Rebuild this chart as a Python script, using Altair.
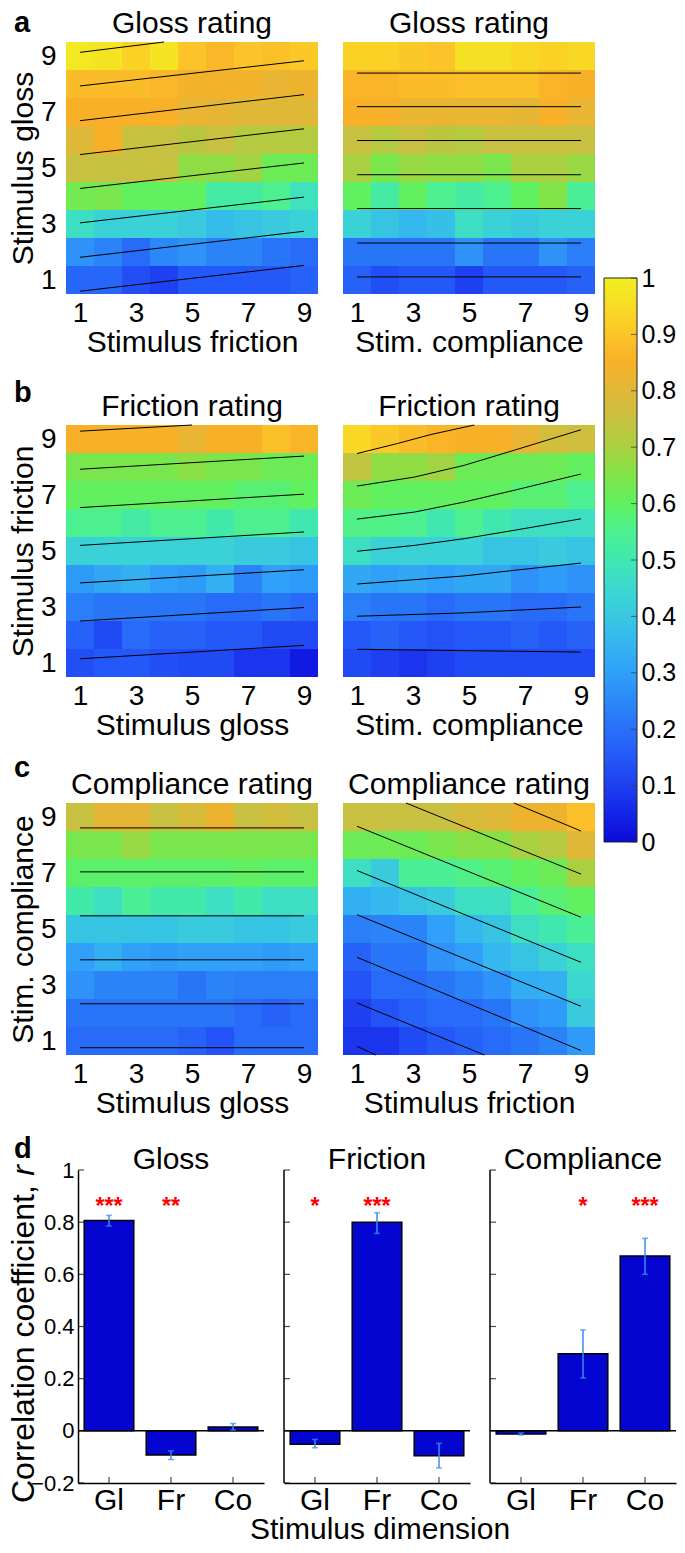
import altair as alt
import pandas as pd

FONT = "Liberation Sans"

# ---------------- heatmap values (rows: stimulus level 9 at top -> 1 at bottom; columns 1..9) -------------
gloss_vs_friction = [
    [0.98, 0.97, 0.93, 0.97, 0.90, 0.87, 0.90, 0.89, 0.91],
    [0.88, 0.88, 0.88, 0.87, 0.84, 0.84, 0.84, 0.82, 0.83],
    [0.85, 0.85, 0.85, 0.85, 0.82, 0.81, 0.80, 0.80, 0.80],
    [0.80, 0.85, 0.75, 0.75, 0.73, 0.75, 0.72, 0.72, 0.72],
    [0.75, 0.75, 0.75, 0.75, 0.67, 0.67, 0.69, 0.62, 0.62],
    [0.63, 0.64, 0.60, 0.60, 0.60, 0.52, 0.52, 0.55, 0.48],
    [0.47, 0.43, 0.43, 0.43, 0.41, 0.37, 0.39, 0.41, 0.43],
    [0.27, 0.24, 0.19, 0.25, 0.27, 0.24, 0.24, 0.21, 0.19],
    [0.18, 0.18, 0.13, 0.10, 0.15, 0.15, 0.15, 0.15, 0.17],
]
gloss_vs_compliance = [
    [0.93, 0.93, 0.91, 0.90, 0.96, 0.96, 0.94, 0.93, 0.94],
    [0.86, 0.86, 0.88, 0.88, 0.89, 0.89, 0.89, 0.86, 0.85],
    [0.85, 0.85, 0.82, 0.82, 0.82, 0.82, 0.81, 0.85, 0.82],
    [0.75, 0.72, 0.75, 0.73, 0.72, 0.75, 0.75, 0.75, 0.75],
    [0.70, 0.64, 0.68, 0.67, 0.67, 0.64, 0.70, 0.70, 0.68],
    [0.60, 0.52, 0.60, 0.55, 0.52, 0.55, 0.60, 0.65, 0.54],
    [0.43, 0.39, 0.36, 0.38, 0.47, 0.43, 0.41, 0.43, 0.43],
    [0.21, 0.21, 0.21, 0.21, 0.27, 0.21, 0.21, 0.27, 0.23],
    [0.17, 0.13, 0.15, 0.15, 0.10, 0.15, 0.15, 0.15, 0.17],
]
friction_vs_gloss = [
    [0.85, 0.85, 0.85, 0.85, 0.82, 0.85, 0.85, 0.89, 0.86],
    [0.64, 0.64, 0.64, 0.64, 0.66, 0.64, 0.64, 0.62, 0.62],
    [0.60, 0.60, 0.60, 0.60, 0.60, 0.60, 0.58, 0.58, 0.60],
    [0.55, 0.55, 0.52, 0.55, 0.55, 0.51, 0.55, 0.55, 0.50],
    [0.43, 0.43, 0.43, 0.43, 0.43, 0.43, 0.41, 0.41, 0.39],
    [0.29, 0.32, 0.34, 0.30, 0.29, 0.34, 0.24, 0.30, 0.29],
    [0.23, 0.21, 0.21, 0.21, 0.21, 0.19, 0.19, 0.21, 0.19],
    [0.17, 0.12, 0.19, 0.17, 0.17, 0.15, 0.15, 0.12, 0.12],
    [0.13, 0.15, 0.15, 0.13, 0.12, 0.12, 0.08, 0.08, 0.03],
]
friction_vs_compliance = [
    [0.94, 0.91, 0.88, 0.86, 0.85, 0.85, 0.82, 0.77, 0.76],
    [0.74, 0.67, 0.67, 0.69, 0.62, 0.62, 0.62, 0.62, 0.60],
    [0.62, 0.60, 0.60, 0.60, 0.60, 0.60, 0.58, 0.58, 0.55],
    [0.56, 0.56, 0.55, 0.50, 0.55, 0.50, 0.47, 0.47, 0.47],
    [0.47, 0.43, 0.43, 0.43, 0.43, 0.39, 0.39, 0.41, 0.39],
    [0.32, 0.30, 0.32, 0.30, 0.32, 0.32, 0.27, 0.29, 0.27],
    [0.23, 0.21, 0.21, 0.19, 0.21, 0.21, 0.19, 0.19, 0.21],
    [0.15, 0.17, 0.15, 0.14, 0.15, 0.15, 0.17, 0.15, 0.17],
    [0.12, 0.10, 0.08, 0.10, 0.12, 0.12, 0.12, 0.12, 0.12],
]
compliance_vs_gloss = [
    [0.75, 0.81, 0.81, 0.75, 0.78, 0.83, 0.75, 0.77, 0.75],
    [0.64, 0.64, 0.68, 0.64, 0.64, 0.64, 0.64, 0.64, 0.64],
    [0.59, 0.59, 0.59, 0.59, 0.59, 0.59, 0.60, 0.59, 0.59],
    [0.51, 0.47, 0.54, 0.51, 0.51, 0.47, 0.51, 0.47, 0.47],
    [0.39, 0.39, 0.39, 0.39, 0.41, 0.41, 0.39, 0.39, 0.41],
    [0.30, 0.34, 0.30, 0.29, 0.30, 0.30, 0.30, 0.29, 0.30],
    [0.27, 0.24, 0.24, 0.24, 0.21, 0.24, 0.23, 0.23, 0.23],
    [0.21, 0.21, 0.21, 0.21, 0.21, 0.21, 0.19, 0.17, 0.19],
    [0.19, 0.19, 0.19, 0.19, 0.17, 0.14, 0.19, 0.19, 0.19],
]
compliance_vs_friction = [
    [0.75, 0.75, 0.75, 0.75, 0.78, 0.80, 0.83, 0.83, 0.89],
    [0.62, 0.62, 0.62, 0.64, 0.66, 0.66, 0.70, 0.72, 0.80],
    [0.47, 0.41, 0.54, 0.54, 0.56, 0.58, 0.60, 0.62, 0.70],
    [0.34, 0.36, 0.39, 0.41, 0.47, 0.47, 0.54, 0.58, 0.60],
    [0.23, 0.24, 0.24, 0.30, 0.36, 0.39, 0.47, 0.50, 0.54],
    [0.17, 0.21, 0.21, 0.27, 0.30, 0.36, 0.39, 0.43, 0.47],
    [0.14, 0.19, 0.19, 0.21, 0.24, 0.27, 0.33, 0.34, 0.45],
    [0.10, 0.14, 0.17, 0.19, 0.19, 0.21, 0.27, 0.29, 0.41],
    [0.08, 0.08, 0.12, 0.15, 0.17, 0.19, 0.21, 0.24, 0.29],
]

# ---------------- iso-rating lines of the fitted planes (x, y in stimulus units) -------------
lines_gloss_friction = [
    [(1, 9.13), (4.0, 9.5)],
    [(1, 7.93), (9, 8.83)],
    [(1, 6.69), (9, 7.62)],
    [(1, 5.48), (9, 6.40)],
    [(1, 4.27), (9, 5.18)],
    [(1, 3.04), (9, 3.96)],
    [(1, 1.81), (9, 2.74)],
    [(1, 0.60), (9, 1.52)],
]
lines_gloss_compliance = [
    [(1, 8.39), (9, 8.39)],
    [(1, 7.19), (9, 7.19)],
    [(1, 5.98), (9, 5.98)],
    [(1, 4.76), (9, 4.76)],
    [(1, 3.55), (9, 3.55)],
    [(1, 2.32), (9, 2.32)],
    [(1, 1.11), (9, 1.11)],
]
lines_friction_gloss = [
    [(1, 9.28), (5.0, 9.5)],
    [(1, 7.92), (9, 8.39)],
    [(1, 6.55), (9, 7.03)],
    [(1, 5.20), (9, 5.68)],
    [(1, 3.86), (9, 4.33)],
    [(1, 2.50), (9, 2.98)],
    [(1, 1.15), (9, 1.63)],
]
lines_friction_compliance = [
    [(1, 8.48), (2.45, 8.84), (3.64, 9.16), (5.19, 9.5)],
    [(1, 7.32), (3.05, 7.64), (4.83, 8.06), (6.62, 8.60), (9, 9.33)],
    [(1, 6.14), (3.05, 6.39), (4.83, 6.75), (6.62, 7.17), (9, 7.75)],
    [(1, 4.99), (3.05, 5.20), (4.83, 5.44), (6.62, 5.74), (9, 6.15)],
    [(1, 3.82), (4.83, 4.11), (6.62, 4.31), (9, 4.57)],
    [(1, 2.67), (4.83, 2.79), (9, 3.00)],
    [(1, 1.49), (9, 1.39)],
]
lines_compliance_gloss = [
    [(1, 8.61), (9, 8.61)],
    [(1, 7.04), (9, 7.04)],
    [(1, 5.47), (9, 5.47)],
    [(1, 3.90), (9, 3.90)],
    [(1, 2.33), (9, 2.33)],
    [(1, 0.76), (9, 0.76)],
]
lines_compliance_friction = [
    [(6.60, 9.5), (9, 8.50)],
    [(2.75, 9.5), (9, 6.96)],
    [(1, 8.67), (9, 5.42)],
    [(1, 7.09), (9, 3.81)],
    [(1, 5.51), (9, 2.24)],
    [(1, 3.99), (9, 0.66)],
    [(1, 2.36), (5.55, 0.5)],
    [(1, 0.81), (1.68, 0.5)],
]

# ---------------- colour map (parula-like) -------------
cmap_stops = [0.0, 0.05, 0.1, 0.15, 0.2, 0.25, 0.3, 0.35, 0.4, 0.45, 0.5,
              0.55, 0.6, 0.65, 0.7, 0.75, 0.8, 0.85, 0.9, 0.95, 1.0]
cmap_colors = ["#0a0ad8", "#1424e8", "#1e40f0", "#2458f8", "#2870f8", "#2c88f8",
               "#30a0f8", "#34b4f0", "#38c8e0", "#3cd8d0", "#40e8b0", "#4cf090",
               "#60f060", "#80e448", "#a8d040", "#c8c040", "#e0b838", "#f8b028",
               "#fcc428", "#f8dc24", "#f0f020"]
cbar_ticks = [0.0, 0.1, 0.2, 0.3, 0.4, 0.5, 0.6, 0.7, 0.8, 0.9, 1.0]

# ---------------- correlation bars -------------
dims = ["Gl", "Fr", "Co"]
gloss_r = [0.806, -0.093, 0.015]
gloss_lo = [0.785, -0.110, 0.003]
gloss_hi = [0.826, -0.077, 0.028]
gloss_stars = ["***", "**", ""]
friction_r = [-0.051, 0.800, -0.096]
friction_lo = [-0.065, 0.757, -0.142]
friction_hi = [-0.033, 0.836, -0.048]
friction_stars = ["*", "***", ""]
compliance_r = [-0.012, 0.296, 0.670]
compliance_lo = [-0.016, 0.203, 0.600]
compliance_hi = [-0.008, 0.387, 0.738]
compliance_stars = ["", "*", "***"]
r_ticks = [-0.2, 0.0, 0.2, 0.4, 0.6, 0.8, 1.0]
star_level = 0.88
r_axis_text = "Correlation coefficient,"
r_axis_symbol = "r"
dim_title = "Stimulus dimension"

HM = 252
BAR_W = 186
BAR_H = 313
SHIFT = 12          # first bar panel: axis sits 12px right of the heatmap column edge
CB_H = 800
CB_TOP = 800 / 564  # colorbar: value 0..1 spans 564 px, top of the plot = top of the heatmaps

cscale = alt.Scale(domain=cmap_stops, range=cmap_colors, interpolate="rgb")


def txt(text, x, y, size, weight="normal", align="center", baseline="alphabetic",
        color="black", angle=0, style="normal"):
    return alt.Chart(pd.DataFrame({"t": [text]})).mark_text(
        fontSize=size, fontWeight=weight, align=align, baseline=baseline, font=FONT,
        color=color, angle=angle, fontStyle=style
    ).encode(text="t:N", x=alt.value(x), y=alt.value(y))


def heatmap(vals, lines, title, xtitle, ytitle, letter=None, letter_y=0):
    rows = []
    for i, row in enumerate(vals):
        for j, v in enumerate(row):
            rows.append({"sx": j + 1, "sy": 9 - i, "v": v})
    df = pd.DataFrame(rows)
    lrows = []
    for k, pts in enumerate(lines):
        for m, (px, py) in enumerate(pts):
            lrows.append({"id": k, "ord": m, "lx": px, "ly": py})
    ldf = pd.DataFrame(lrows)

    xs = alt.Scale(domain=[0.5, 9.5], nice=False, zero=False)
    ys = alt.Scale(domain=[0.5, 9.5], nice=False, zero=False)
    xaxis = alt.Axis(values=[1, 3, 5, 7, 9], title=xtitle, domain=False, ticks=False, grid=False,
                     labelFontSize=28, titleFontSize=30, labelPadding=5, titlePadding=0,
                     titleFontWeight="normal", labelColor="black", titleColor="black",
                     labelFont=FONT, titleFont=FONT)
    if ytitle:
        yaxis = alt.Axis(values=[1, 3, 5, 7, 9], title=ytitle, domain=False, ticks=False, grid=False,
                         labelFontSize=28, titleFontSize=30, labelPadding=10, titlePadding=2,
                         titleFontWeight="normal", labelColor="black", titleColor="black",
                         labelFont=FONT, titleFont=FONT)
    else:
        yaxis = None

    rect = alt.Chart(df).transform_calculate(
        x0="datum.sx - 0.5", x1="datum.sx + 0.5", y0="datum.sy - 0.5", y1="datum.sy + 0.5"
    ).mark_rect().encode(
        x=alt.X("x0:Q", scale=xs, axis=xaxis),
        x2="x1:Q",
        y=alt.Y("y0:Q", scale=ys, axis=yaxis),
        y2="y1:Q",
        color=alt.Color("v:Q", scale=cscale, legend=None),
    )
    iso = alt.Chart(ldf).mark_line(color="black", strokeWidth=1).encode(
        x=alt.X("lx:Q", scale=xs, axis=xaxis),
        y=alt.Y("ly:Q", scale=ys, axis=yaxis),
        detail="id:N",
        order="ord:Q",
    )
    layers = [rect, iso, txt(title, HM / 2, -9, 30)]
    if letter:
        layers.append(txt(letter, -52, letter_y, 29, weight="bold", align="left"))
    return alt.layer(*layers).properties(width=HM, height=HM)


def colorbar():
    df = pd.DataFrame({"lo": [0.0], "hi": [1.0]})
    ys = alt.Scale(domain=[0, CB_TOP], nice=False, zero=False)
    yaxis = alt.Axis(values=cbar_ticks, orient="right", domain=False, ticks=False, grid=False,
                     labelFontSize=25, labelPadding=4, labelColor="black", labelFont=FONT,
                     format=".1~f", title=None, labelFlush=False)
    grad = alt.Gradient(
        gradient="linear", x1=0, x2=0, y1=1, y2=0,
        stops=[alt.GradientStop(offset=s, color=c) for s, c in zip(cmap_stops, cmap_colors)],
    )
    bar = alt.Chart(df).mark_rect(fill=grad, stroke="#222222", strokeWidth=1).encode(
        y=alt.Y("lo:Q", scale=ys, axis=yaxis), y2="hi:Q", x=alt.value(0), x2=alt.value(33)
    )
    tk = alt.Chart(pd.DataFrame({"tv": cbar_ticks})).mark_tick(
        orient="horizontal", size=6, thickness=1, color="#333333"
    ).encode(y=alt.Y("tv:Q", scale=ys, axis=yaxis), x=alt.value(30))
    return alt.layer(bar, tk).properties(width=33, height=CB_H)


def bar_panel(name, r, lo, hi, stars, first, letter=None):
    sh = SHIFT if first else 0
    width = BAR_W + sh
    df = pd.DataFrame({"dim": dims, "r": r, "lo": lo, "hi": hi, "star": stars,
                       "base": [0.0] * len(dims), "lev": [star_level] * len(dims)})
    sdf = df[df["star"] != ""].reset_index(drop=True)
    if first:
        xs = alt.Scale(domain=dims, range=[sh, width], paddingInner=0.2, paddingOuter=0.1)
    else:
        xs = alt.Scale(domain=dims, paddingInner=0.2, paddingOuter=0.1)
    xaxis = alt.Axis(title=None, labelAngle=0, ticks=False, grid=False, domainColor="black",
                     domainWidth=1.5, labelFontSize=30, labelPadding=2, labelColor="black",
                     labelFont=FONT)
    ys = alt.Scale(domain=[-0.2, 1.0], nice=False, zero=False)
    if first:
        yaxis = alt.Axis(values=r_ticks, title=None, ticks=False, grid=False,
                         domainColor="black", domainWidth=1.5, labelFontSize=22,
                         labelPadding=4, labelColor="black", labelFont=FONT, format="~g",
                         offset=-sh)
    else:
        yaxis = alt.Axis(values=r_ticks, title=None, ticks=False, grid=False, labels=False,
                         domain=False, minExtent=0, maxExtent=0)

    def Y(f):
        return alt.Y(f, scale=ys, axis=yaxis)

    X = alt.X("dim:N", sort=dims, scale=xs, axis=xaxis)
    bars = alt.Chart(df).mark_bar(color="#0505d2", stroke="black", strokeWidth=1.5).encode(
        x=X, y=Y("r:Q"), y2="base:Q"
    )
    zero = alt.Chart(pd.DataFrame({"z": [0.0]})).mark_rule(color="black", strokeWidth=1.5).encode(
        y=Y("z:Q"), x=alt.value(sh), x2=alt.value(width)
    )
    err = alt.Chart(df).mark_rule(color="#3a8cf0", strokeWidth=1.5).encode(x=X, y=Y("lo:Q"), y2="hi:Q")
    cap_lo = alt.Chart(df).mark_tick(color="#3a8cf0", thickness=1.5, size=6).encode(x=X, y=Y("lo:Q"))
    cap_hi = alt.Chart(df).mark_tick(color="#3a8cf0", thickness=1.5, size=6).encode(x=X, y=Y("hi:Q"))
    st = alt.Chart(sdf).mark_text(color="red", fontSize=23, fontWeight="bold", baseline="middle",
                                  dy=6, font=FONT).encode(x=X, y=Y("lev:Q"), text="star:N")
    ytk = alt.Chart(pd.DataFrame({"tv": r_ticks})).mark_tick(
        orient="horizontal", size=6, thickness=1.2, color="black"
    ).encode(y=Y("tv:Q"), x=alt.value(sh + 3))
    xtk = alt.Chart(df).mark_tick(orient="vertical", size=6, thickness=1.2, color="black").encode(
        x=X, y=alt.value(BAR_H - 3)
    )
    layers = [bars, zero, err, cap_lo, cap_hi, st, ytk, xtk,
              txt(name, sh + BAR_W / 2, -1, 30)]
    if not first:
        vline = alt.Chart(pd.DataFrame({"a": [-0.2], "b": [1.0]})).mark_rule(
            color="black", strokeWidth=1.5
        ).encode(y=Y("a:Q"), y2="b:Q", x=alt.value(0))
        layers.append(vline)
    if first:
        layers.append(txt(r_axis_text, -24.7, 333, 32, align="left", baseline="bottom", angle=270))
        layers.append(txt(r_axis_symbol, -24.7, 333 - 327.2, 32, align="left", baseline="bottom",
                          angle=270, style="italic"))
    if letter:
        layers.append(txt(letter, -52, -12, 29, weight="bold", align="left"))
    return alt.layer(*layers).properties(width=width, height=BAR_H)


row_a = alt.hconcat(
    heatmap(gloss_vs_friction, lines_gloss_friction, "Gloss rating", "Stimulus friction",
            "Stimulus gloss", "a", -10),
    heatmap(gloss_vs_compliance, lines_gloss_compliance, "Gloss rating", "Stim. compliance", None),
    spacing=25,
)
row_b = alt.hconcat(
    heatmap(friction_vs_gloss, lines_friction_gloss, "Friction rating", "Stimulus gloss",
            "Stimulus friction", "b", -22.7),
    heatmap(friction_vs_compliance, lines_friction_compliance, "Friction rating", "Stim. compliance", None),
    spacing=25,
)
row_c = alt.hconcat(
    heatmap(compliance_vs_gloss, lines_compliance_gloss, "Compliance rating", "Stimulus gloss",
            "Stim. compliance", "c", -25.7),
    heatmap(compliance_vs_friction, lines_compliance_friction, "Compliance rating", "Stimulus friction", None),
    spacing=25,
)
row_d = alt.hconcat(
    bar_panel("Gloss", gloss_r, gloss_lo, gloss_hi, gloss_stars, True, "d"),
    bar_panel("Friction", friction_r, friction_lo, friction_hi, friction_stars, False),
    bar_panel("Compliance", compliance_r, compliance_lo, compliance_hi, compliance_stars, False),
    spacing=18,
    title=alt.Title(dim_title, orient="bottom", anchor="start", frame="group", dx=184,
                    offset=0, baseline="top", fontSize=30, fontWeight="normal", font=FONT,
                    color="black"),
)

heat = alt.vconcat(alt.vconcat(row_a, row_b, spacing=22), row_c, spacing=14)
top = alt.hconcat(heat, colorbar(), spacing=8)
chart = alt.vconcat(top, row_d, spacing=17).properties(
    padding={"left": 0, "top": 1, "right": 0, "bottom": -2}
).configure(font=FONT).configure_view(stroke=None)

chart.save("out.html", embed_options={"renderer": "svg", "actions": False})
